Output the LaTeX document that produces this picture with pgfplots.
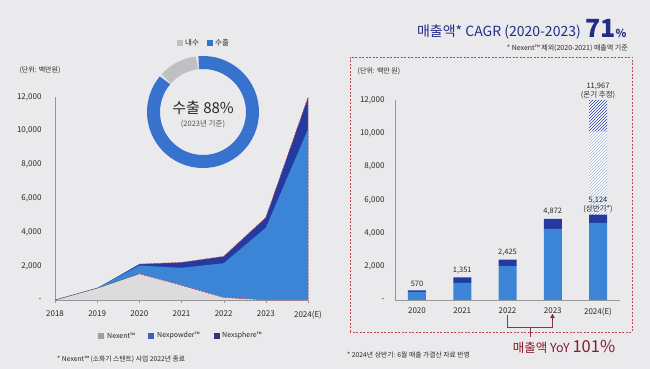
\documentclass[border=0pt]{standalone}
\usepackage{fontspec}
\setmainfont{Noto Sans CJK KR}
\usepackage{pgfplots}
\pgfplotsset{compat=1.18}
\usetikzlibrary{patterns,arrows.meta}
\definecolor{bgc}{RGB}{234,234,236}
\definecolor{blueC}{RGB}{60,132,214}
\definecolor{navyC}{RGB}{36,58,160}
\definecolor{lgrayC}{RGB}{220,220,222}
\definecolor{axc}{RGB}{150,150,150}
\definecolor{txc}{RGB}{40,40,40}
\definecolor{redC}{RGB}{190,70,85}
\definecolor{yoyC}{RGB}{140,25,45}
\definecolor{titleC}{RGB}{35,45,135}
\definecolor{hatchL}{RGB}{165,182,210}
\definecolor{donutB}{RGB}{55,115,205}
\definecolor{donutG}{RGB}{192,192,194}
\definecolor{legP}{RGB}{65,95,180}
\definecolor{legS}{RGB}{50,50,125}
\definecolor{legN}{RGB}{160,160,160}
\pgfplotsset{rightaxis/.style={at={(395pt,69pt)}, anchor=south west, scale only axis,
  width=225pt, height=200pt, xmin=-0.486, xmax=4.486, ymin=0, ymax=12000, clip=false}}
\begin{document}
\begin{tikzpicture}[x=1pt,y=1pt]
\useasboundingbox (0,0) rectangle (650,369);
\fill[bgc] (0,0) rectangle (650,369);

% ---------------- left stacked area chart ----------------
\begin{axis}[at={(55pt,69pt)}, anchor=south west, scale only axis,
  width=253pt, height=203pt, xmin=0, xmax=6, ymin=0, ymax=12000,
  scaled y ticks=false,
  axis x line*=bottom, axis y line*=left,
  axis line style={draw=axc, line width=0.6pt},
  xtick={0,...,6}, xticklabels={2018,2019,2020,2021,2022,2023,2024(E)},
  ytick={0,2000,...,12000},
  yticklabels={-,{2,000},{4,000},{6,000},{8,000},{10,000},{12,000}},
  tick label style={font=\fontsize{8}{9}\selectfont, text=txc},
  xtick style={draw=axc}, ytick style={draw=none},
  tick align=outside, major tick length=3pt,
  yticklabel style={xshift=-7pt}, xticklabel style={yshift=-4pt},
  clip=false]
\addplot[fill=navyC, draw=none] coordinates {(0,0)(1,700)(2,2120)(3,2221)(4,2575)(5,4872)(6,11967)} \closedcycle;
\addplot[fill=blueC, draw=none] coordinates {(0,0)(1,700)(2,2040)(3,1900)(4,2175)(5,4272)(6,10100)} \closedcycle;
\addplot[fill=lgrayC, draw=none] coordinates {(0,0)(1,700)(2,1550)(3,870)(4,150)(5,0)(6,0)} \closedcycle;
\addplot[draw=gray!70!black, line width=0.5pt] coordinates {(0,0)(1,700)(2,1550)};
\addplot[draw=redC, line width=0.7pt, dash pattern=on 2pt off 1.5pt] coordinates {(2,2120)(3,2221)(4,2575)(5,4872)(6,11967)(6,0)(5,0)(4,150)(3,870)(2,1550)};
\end{axis}

\node[font=\fontsize{7}{8}\selectfont, text=txc] at (40,299) {(단위: 백만원)};

% donut
\draw[donutB, line width=13pt] (203,257) ++(95:49.5pt) arc[start angle=95, end angle=-219.8, radius=49.5pt];
\draw[donutG, line width=13pt] (203,257) ++(138.2:49.5pt) arc[start angle=138.2, end angle=97, radius=49.5pt];
\node[font=\fontsize{15}{16}\selectfont, text=txc] at (203,261) {수출 88\%};
\node[font=\fontsize{7.5}{8}\selectfont, text=txc!80] at (203,245) {(2023년 기준)};
\fill[donutG] (177,323) rectangle (183,329);
\node[anchor=west, font=\fontsize{7.5}{8}\selectfont, text=txc, inner sep=1pt] at (184,326) {내수};
\fill[donutB] (207,323) rectangle (213,329);
\node[anchor=west, font=\fontsize{7.5}{8}\selectfont, text=txc, inner sep=1pt] at (214,326) {수출};

% left legend and footnote
\fill[legN] (98,30) rectangle (104,36);
\node[anchor=west, font=\fontsize{7}{8}\selectfont, text=txc, inner sep=1pt] at (106,33) {Nexent™};
\fill[legP] (148,30) rectangle (154,36);
\node[anchor=west, font=\fontsize{7}{8}\selectfont, text=txc, inner sep=1pt] at (156,33) {Nexpowder™};
\fill[legS] (214,30) rectangle (220,36);
\node[anchor=west, font=\fontsize{7}{8}\selectfont, text=txc, inner sep=1pt] at (221,33) {Nexsphere™};
\node[anchor=west, font=\fontsize{6.8}{8}\selectfont, text=txc, inner sep=0pt] at (57,10) {* Nexent™ (소화기 스텐트) 사업 2022년 종료};

% ---------------- right stacked bar chart ----------------
\draw[redC, line width=0.7pt, dash pattern=on 2pt off 1.5pt] (350,37) rectangle (632,312);
\node[font=\fontsize{7}{8}\selectfont, text=txc] at (379,298) {(단위: 백만 원)};

\begin{axis}[rightaxis,
  ybar stacked, bar width=18pt, scaled y ticks=false,
  axis x line*=bottom, axis y line*=left,
  axis line style={draw=axc, line width=0.6pt},
  xtick={0,...,4}, xticklabels={2020,2021,2022,2023,2024(E)},
  ytick={0,2000,...,12000},
  yticklabels={-,{2,000},{4,000},{6,000},{8,000},{10,000},{12,000}},
  tick label style={font=\fontsize{8}{9}\selectfont, text=txc},
  major tick length=0pt, tick style={draw=none},
  yticklabel style={xshift=-7pt}, xticklabel style={yshift=-4pt}]
\addplot[fill=blueC, draw=none] coordinates {(0,490)(1,1030)(2,2025)(3,4272)(4,4624)};
\addplot[fill=navyC, draw=none] coordinates {(0,80)(1,321)(2,400)(3,600)(4,500)};
\addplot[fill=white, draw=none, postaction={pattern=north east lines, pattern color=hatchL}] coordinates {(0,0)(1,0)(2,0)(3,0)(4,4976)};
\addplot[fill=white, draw=none, postaction={pattern=north east lines, pattern color=navyC}] coordinates {(0,0)(1,0)(2,0)(3,0)(4,1867)};
\end{axis}
% value labels (drawn above the bars)
\begin{axis}[rightaxis, hide axis]
\node[above, font=\fontsize{7.5}{8}\selectfont, text=txc] at (axis cs:0,570) {570};
\node[above, font=\fontsize{7.5}{8}\selectfont, text=txc] at (axis cs:1,1351) {1,351};
\node[above, font=\fontsize{7.5}{8}\selectfont, text=txc] at (axis cs:2,2425) {2,425};
\node[above, font=\fontsize{7.5}{8}\selectfont, text=txc] at (axis cs:3,4872) {4,872};
\node[above, align=center, font=\fontsize{7.5}{9}\selectfont, text=txc, inner sep=1.5pt] at (axis cs:4,5124) {5,124\\(상반기*)};
\node[above, align=center, font=\fontsize{7.5}{9}\selectfont, text=txc, inner sep=1.5pt] at (axis cs:4,11967) {11,967\\(온기 추정)};
\end{axis}

% bracket and YoY
\draw[yoyC!70!gray, line width=0.6pt] (507,54) -- (507,42) -- (552.5,42) -- (552.5,50);
\draw[yoyC, line width=0.6pt, -{Triangle[length=4pt,width=4.5pt]}] (552.5,48) -- (552.5,55);
\draw[yoyC!70!gray, line width=0.6pt] (530,42) -- (530,32);
\node[anchor=base, text=yoyC, inner sep=0pt] at (564,16) {\fontsize{12.5}{14}\selectfont 매출액 YoY \fontsize{16.5}{18}\selectfont 101\%};
\node[anchor=west, font=\fontsize{6.8}{8}\selectfont, text=txc, inner sep=0pt] at (347,14) {* 2024년 상반기: 6월 매출 가결산 자료 반영};

% title
\node[anchor=base east, font=\fontsize{14}{16}\selectfont, text=titleC, inner sep=0pt] at (581,332) {매출액* CAGR (2020-2023)};
\node[anchor=base west, text=titleC, inner sep=0pt] at (585,331) {\fontsize{25}{28}\selectfont\bfseries 71\fontsize{11}{13}\selectfont\%};
\node[anchor=east, font=\fontsize{7}{8}\selectfont, text=txc, inner sep=0pt] at (628,321) {* Nexent™ 제외(2020-2021) 매출액 기준};
\end{tikzpicture}
\end{document}
